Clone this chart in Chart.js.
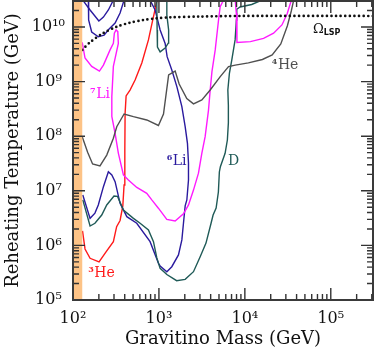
<!DOCTYPE html>
<html>
<head>
<meta charset="utf-8">
<script src="https://cdn.jsdelivr.net/npm/chart.js@4.4.1/dist/chart.umd.min.js"></script>
<style>
  html, body { margin: 0; padding: 0; background: #fff; }
</style>
</head>
<body>
<canvas id="bbnChart" width="374" height="351"></canvas>
<script>
// axis ranges and tick labels
const massTicks = [1e2, 1e3, 1e4, 1e5];
const tempTicks = [1e5, 1e6, 1e7, 1e8, 1e9, 1e10];
const massRange = [100, 3.1e5];
const tempRange = [1e5, 2.99e10];
const excludedMass = [100, 129]; // shaded band on the left

// Omega_LSP (dotted)
const omegaMass = [128, 158, 225, 323, 461, 659, 945, 1350, 3000, 8800, 3.1e5];
const omegaTemp = [3.8e9, 5.25e9, 7.7e9, 1.01e10, 1.2e10, 1.34e10, 1.44e10, 1.5e10, 1.55e10, 1.59e10, 1.59e10];

// 7Li
const li7Mass = [128, 138, 165, 203, 226, 270, 295, 303, 317, 332, 337, 295, 283, 283, 309, 337, 386, 441, 553, 722,
  826, 986, 1235, 1545, 1930, 2210, 2525, 2885, 3160, 3450, 3775, 3950, 4140, 4520, 4940, 5160, 5650];
const li7Temp = [5.2e9, 2.7e9, 1.9e9, 1.56e9, 2.0e9, 3.8e9, 5.0e9, 7.7e9, 8.8e9, 8.2e9, 5.0e9, 1.9e9, 5.3e8, 2.3e8, 1.13e8, 4.9e7, 1.95e7, 1.58e7, 1.15e7, 9.0e6,
  6.8e6, 4.8e6, 3.0e6, 2.8e6, 3.8e6, 5.5e6, 1.03e7, 2.1e7, 4.9e7, 9.8e7, 3.0e8, 7.0e8, 1.52e9, 3.8e9, 1.34e10, 2.36e10, 3.1e10];
const li7bMass = [7730, 7950, 8090, 1.16e4, 1.65e4, 2.16e4, 2.7e4, 3.1e4, 3.48e4];
const li7bTemp = [3.1e10, 1.8e10, 5.2e9, 5.4e9, 6.2e9, 7.7e9, 1.09e10, 1.73e10, 3.1e10];

// 4He
const he4Mass = [128, 148, 169, 206, 247, 295, 323, 393, 505, 722, 987, 1130, 1297, 1545, 1720, 2110, 2525, 3160, 3950, 5170,
  6460, 7730, 1.1e4, 1.6e4, 2.08e4, 2.62e4, 3.12e4, 3.47e4, 3.7e4];
const he4Temp = [9.8e7, 5.1e7, 3.1e7, 2.85e7, 4.5e7, 9.2e7, 1.49e8, 2.55e8, 2.28e8, 1.98e8, 1.57e8, 2.55e8, 1.32e9, 1.56e9, 9.0e8, 4.9e8, 3.9e8, 4.6e8, 7.0e8, 1.23e9,
  1.88e9, 2.0e9, 2.2e9, 2.54e9, 3.07e9, 4.9e9, 1.04e10, 1.96e10, 3.1e10];

// D
const dMass = [130, 158, 180, 216, 247, 300, 330, 386, 505, 604, 755, 864, 945, 1033, 1236, 1607, 2020, 2525, 3020, 3530,
  4050, 4270, 4630, 4920, 5050, 5190, 5890, 6260, 6430, 6430, 6340, 6610, 7050, 7700, 7970, 8050, 8800, 1.2e4, 1.58e4];
const dTemp = [6.8e6, 2.26e6, 2.54e6, 3.6e6, 5.5e6, 8.0e6, 7.9e6, 4.45e6, 3.13e6, 2.54e6, 1.91e6, 1.17e6, 5.9e5, 3.8e5, 2.93e5, 2.26e5, 2.39e5, 3.3e5, 6.2e5, 1.1e6,
  2.57e6, 3.6e6, 4.84e6, 9.5e6, 2.21e7, 2.76e7, 4.87e7, 8.5e7, 1.75e8, 3.7e8, 7.0e8, 1.42e9, 2.49e9, 5.8e9, 1.34e10, 2.11e10, 2.32e10, 2.58e10, 3.1e10];
const dTopMass = [944, 953, 961, 1033, 1180, 1290, 1297, 1236, 1236];
const dTopTemp = [3.1e10, 8.8e9, 4.3e9, 3.5e9, 4.1e9, 5.1e9, 8.8e9, 1.66e10, 3.1e10];

// 6Li
const li6Mass = [789, 903, 1033, 1181, 1246, 1412, 1617, 1849, 2020, 2148, 2208, 2208, 2113, 2020, 1930, 1849, 1688, 1412, 1236, 1033,
  987, 789, 552, 423, 353, 309, 283, 258, 226, 197, 180, 158, 130];
const li6Temp = [3.1e10, 2.05e10, 8.8e9, 5.0e9, 2.86e9, 1.63e9, 8.1e8, 3.47e8, 1.49e8, 7.4e7, 3.2e7, 1.58e7, 6.8e6, 5.3e6, 2.54e6, 1.26e6, 6.7e5, 4.07e5, 3.3e5, 4.2e5,
  4.7e5, 1.17e6, 2.54e6, 3.36e6, 5.9e6, 1.47e7, 1.95e7, 2.24e7, 1.19e7, 5.5e6, 3.9e6, 3.13e6, 8.4e6];
const li6OuterMass = [151, 152, 165, 197, 230, 263, 309, 353, 393];
const li6OuterTemp = [3.1e10, 1.34e10, 8.1e9, 6.6e9, 7.1e9, 9.2e9, 1.18e10, 1.8e10, 3.1e10];
const li6InnerMass = [130, 158, 200, 226, 258, 295];
const li6InnerTemp = [3.1e10, 2.05e10, 1.29e10, 1.52e10, 2.05e10, 3.1e10];

// 3He
const he3Mass = [129, 138, 158, 201, 239, 295, 322, 353, 380, 393, 401, 404, 415, 461, 528, 632, 755, 864, 953];
const he3Temp = [1.84e6, 8.6e5, 5.8e5, 5.0e5, 7.4e5, 1.17e6, 2.2e6, 2.86e6, 5.3e6, 1.28e7, 5.6e7, 2.62e8, 5.45e8, 7.0e8, 1.07e9, 2.19e9, 5.8e9, 1.55e10, 3.1e10];

const RED = '#ff1a1a', MAGENTA = '#ff1aff', BLUE = '#2a1a9e', TEAL = '#1f5a57', GRAY = '#505050';

// curve labels: [superscript, text, colour, mass, temp]
const curveLabels = [
  ['7', 'Li', MAGENTA, 158, 5.0e8],
  ['6', 'Li', BLUE, 1233, 2.97e7],
  ['', 'D', TEAL, 6370, 2.97e7],
  ['4', 'He', GRAY, 2.06e4, 1.70e9],
  ['3', 'He', RED, 150, 2.64e5]
];
const omegaLabel = [6.2e4, 7.8e9];

const SERIF = '"DejaVu Serif", serif';
const supDigits = { '0': '⁰', '1': '¹', '2': '²', '3': '³', '4': '⁴', '5': '⁵', '6': '⁶', '7': '⁷', '8': '⁸', '9': '⁹' };
const powLabel = v => '10' + String(Math.round(Math.log10(v))).split('').map(c => supDigits[c]).join('');

const pts = (xs, ys) => xs.map((x, i) => ({ x: x, y: ys[i] }));
const curve = (xs, ys, color) => ({
  data: pts(xs, ys), borderColor: color, borderWidth: 1.4, pointRadius: 0, fill: false, tension: 0
});

// frame, inward ticks and curve labels
const framePlugin = {
  id: 'frame',
  afterDraw(chart) {
    const { ctx, chartArea: a, scales: { x, y } } = chart;
    ctx.save();
    ctx.strokeStyle = '#333';
    ctx.lineWidth = 1.4;
    ctx.beginPath();
    for (let e = 2; e <= 5; e++) {
      for (let m = 1; m <= 9; m++) {
        const v = m * Math.pow(10, e);
        if (v > x.max) break;
        const px = x.getPixelForValue(v);
        const len = m === 1 ? 12 : 6;
        ctx.moveTo(px, a.bottom); ctx.lineTo(px, a.bottom - len);
        ctx.moveTo(px, a.top); ctx.lineTo(px, a.top + len);
      }
    }
    for (let e = 5; e <= 10; e++) {
      for (let m = 1; m <= 9; m++) {
        const v = m * Math.pow(10, e);
        if (v > y.max) break;
        const py = y.getPixelForValue(v);
        const len = m === 1 ? 12 : 6;
        ctx.moveTo(a.left, py); ctx.lineTo(a.left + len, py);
        ctx.moveTo(a.right, py); ctx.lineTo(a.right - len, py);
      }
    }
    ctx.stroke();
    ctx.lineWidth = 2;
    ctx.strokeStyle = '#3a3a3a';
    ctx.strokeRect(a.left, a.top, a.right - a.left, a.bottom - a.top);

    ctx.textBaseline = 'alphabetic';
    ctx.textAlign = 'left';
    curveLabels.forEach(([sup, txt, color, mx, ty]) => {
      let px = x.getPixelForValue(mx);
      const py = y.getPixelForValue(ty);
      ctx.fillStyle = color;
      if (sup) {
        ctx.font = 'bold 8px ' + SERIF;
        ctx.fillText(sup, px, py - 5);
        px += ctx.measureText(sup).width + 0.5;
      }
      ctx.font = '14px ' + SERIF;
      ctx.fillText(txt, px, py);
    });
    const ox = x.getPixelForValue(omegaLabel[0]);
    const oy = y.getPixelForValue(omegaLabel[1]);
    ctx.fillStyle = '#111';
    ctx.font = '13px ' + SERIF;
    ctx.fillText('Ω', ox, oy);
    const ow = ctx.measureText('Ω').width;
    ctx.font = 'bold 8px "DejaVu Sans", sans-serif';
    ctx.fillText('LSP', ox + ow, oy + 2);
    ctx.restore();
  }
};

new Chart(document.getElementById('bbnChart'), {
  type: 'line',
  data: {
    datasets: [
      {
        data: pts(excludedMass, [tempRange[1], tempRange[1]]),
        borderWidth: 0, pointRadius: 0, fill: 'start', backgroundColor: '#fdc386', order: -1
      },
      {
        data: pts(omegaMass, omegaTemp), borderColor: '#111', borderWidth: 2.7,
        borderDash: [0, 4.6], borderCapStyle: 'round', pointRadius: 0, fill: false, tension: 0.3
      },
      curve(he4Mass, he4Temp, GRAY),
      curve(li7Mass, li7Temp, MAGENTA),
      curve(li7bMass, li7bTemp, MAGENTA),
      curve(dMass, dTemp, TEAL),
      curve(dTopMass, dTopTemp, TEAL),
      curve(li6Mass, li6Temp, BLUE),
      curve(li6OuterMass, li6OuterTemp, BLUE),
      curve(li6InnerMass, li6InnerTemp, BLUE),
      curve(he3Mass, he3Temp, RED)
    ]
  },
  options: {
    responsive: false,
    animation: false,
    layout: { padding: { top: 1, right: 1, left: 0, bottom: 0 } },
    plugins: { legend: { display: false }, tooltip: { enabled: false } },
    scales: {
      x: {
        type: 'logarithmic',
        min: massRange[0],
        max: massRange[1],
        border: { display: false },
        grid: { display: false, drawTicks: false },
        afterBuildTicks: s => { s.ticks = massTicks.map(v => ({ value: v })); },
        afterFit: s => { s.height = 51; s.paddingLeft = 0; s.paddingRight = 0; },
        ticks: {
          autoSkip: false, maxRotation: 0, padding: 9, color: '#111',
          font: { family: SERIF, size: 16 },
          callback: v => powLabel(v)
        },
        title: {
          display: true, text: 'Gravitino Mass (GeV)', color: '#111',
          font: { family: SERIF, size: 18 }, padding: { top: 0, bottom: 1 }
        }
      },
      y: {
        type: 'logarithmic',
        min: tempRange[0],
        max: tempRange[1],
        border: { display: false },
        grid: { display: false, drawTicks: false },
        afterBuildTicks: s => { s.ticks = tempTicks.map(v => ({ value: v })); },
        afterFit: s => { s.width = 73; s.paddingTop = 0; s.paddingBottom = 0; },
        ticks: {
          autoSkip: false, padding: 8, crossAlign: 'center', color: '#111',
          font: { family: SERIF, size: 16 },
          callback: v => powLabel(v)
        },
        title: {
          display: true, text: 'Reheating Temperature (GeV)', color: '#111',
          font: { family: SERIF, size: 18 }, padding: { top: 3, bottom: 0 }
        }
      }
    }
  },
  plugins: [framePlugin]
});
</script>
</body>
</html>
